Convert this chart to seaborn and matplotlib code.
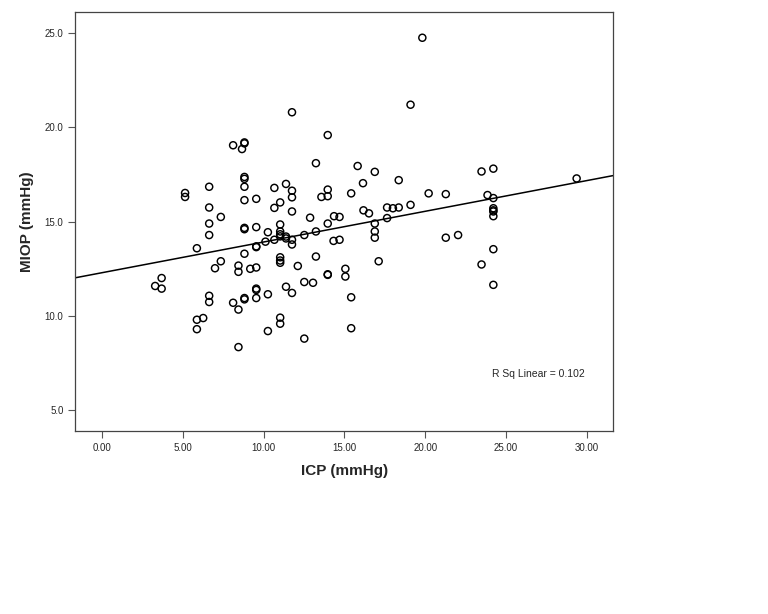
import numpy as np
import pandas as pd
import seaborn as sns
from matplotlib import pyplot as plt

# values (ICP vs MIOP)
icp = [19.82, 19.09, 11.76, 13.97, 8.12, 8.82, 8.82, 8.67, 13.24, 15.82,
       16.88, 23.48, 24.21, 29.36, 18.36, 8.82, 8.82, 11.39, 16.15, 6.64,
       8.82, 10.67, 11.76, 13.97, 5.15, 5.15, 13.58, 13.97, 11.76, 15.42,
       20.21, 21.27, 23.85, 24.21, 8.82, 9.55, 11.03, 19.09, 17.64, 18.00,
       18.36, 6.64, 10.67, 11.76, 16.18, 16.52, 24.21, 24.21, 24.21, 24.21,
       7.36, 14.36, 14.70, 17.64, 12.88, 6.64, 11.03, 13.97, 16.88, 8.82,
       8.82, 9.55, 10.27, 11.03, 11.03, 13.24, 16.88, 6.64, 12.52, 22.03,
       21.27, 16.88, 11.03, 11.39, 11.39, 10.67, 10.12, 11.76, 11.76, 14.33,
       14.70, 9.55, 9.55, 5.88, 24.21, 8.82, 13.24, 11.03, 11.03, 11.03,
       7.36, 17.12, 23.48, 8.45, 12.12, 7.00, 9.55, 9.18, 15.06, 8.45,
       3.70, 13.97, 13.97, 15.06, 3.30, 3.70, 24.21, 12.52, 13.06, 11.39,
       9.55, 9.55, 11.76, 10.27, 6.64, 6.64, 15.42, 9.55, 8.82, 8.82,
       8.12, 8.45, 5.88, 6.27, 5.88, 11.03, 11.03, 10.27, 15.42, 12.52,
       8.45]
miop = [24.75, 21.20, 20.80, 19.59, 19.05, 19.20, 19.15, 18.85, 18.10, 17.95,
        17.64, 17.66, 17.81, 17.29, 17.20, 17.37, 17.27, 17.00, 17.04, 16.85,
        16.85, 16.79, 16.64, 16.70, 16.52, 16.31, 16.31, 16.35, 16.29, 16.50,
        16.50, 16.46, 16.41, 16.25, 16.14, 16.21, 16.02, 15.89, 15.75, 15.71,
        15.75, 15.75, 15.73, 15.54, 15.60, 15.44, 15.71, 15.60, 15.54, 15.29,
        15.25, 15.29, 15.25, 15.19, 15.21, 14.90, 14.85, 14.90, 14.90, 14.67,
        14.60, 14.71, 14.44, 14.48, 14.33, 14.48, 14.48, 14.29, 14.29, 14.29,
        14.15, 14.15, 14.22, 14.21, 14.11, 14.04, 13.94, 14.04, 13.79, 13.98,
        14.04, 13.69, 13.65, 13.59, 13.54, 13.30, 13.15, 13.11, 12.94, 12.82,
        12.90, 12.90, 12.73, 12.67, 12.65, 12.53, 12.57, 12.50, 12.50, 12.34,
        12.01, 12.21, 12.18, 12.09, 11.59, 11.45, 11.65, 11.80, 11.76, 11.55,
        11.45, 11.38, 11.22, 11.15, 11.07, 10.74, 10.99, 10.95, 10.95, 10.88,
        10.70, 10.34, 9.80, 9.89, 9.30, 9.91, 9.59, 9.20, 9.35, 8.80,
        8.35]
r_sq_label = "R Sq Linear = 0.102"
x_ticks = [0, 5, 10, 15, 20, 25, 30]
y_ticks = [5, 10, 15, 20, 25]

df = pd.DataFrame({"ICP (mmHg)": icp, "MIOP (mmHg)": miop})

sns.set_style("ticks")
plt.rcParams['font.family'] = ['Liberation Sans', 'DejaVu Sans']

fig = plt.figure(figsize=(7.68, 6.14), dpi=100)
ax = fig.add_axes([0.098, 0.298, 0.70, 0.682])
xlim = (-1.64, 31.6)
ylim = (3.9, 26.1)
ax.set_xlim(xlim)
ax.set_ylim(ylim)

sns.scatterplot(data=df, x="ICP (mmHg)", y="MIOP (mmHg)", ax=ax,
                marker="o", s=26, facecolor="none", edgecolor="black",
                linewidth=1.05)
# fit line across the whole frame, like SPSS "fit line at total"
sns.regplot(data=df, x="ICP (mmHg)", y="MIOP (mmHg)", ax=ax, scatter=False,
            ci=None, truncate=False, line_kws={"color": "black", "lw": 1.1})
ax.set_xlim(xlim)
ax.set_ylim(ylim)

ax.set_xticks(x_ticks)
ax.set_xticklabels([f"{v:.2f}" for v in x_ticks])
ax.set_yticks(y_ticks)
ax.set_yticklabels([f"{v:.1f}" for v in y_ticks])
ax.tick_params(axis="both", labelsize=7, length=5, width=0.8, color="#555555")
ax.set_xlabel("ICP (mmHg)", fontsize=11, fontweight="bold", labelpad=8)
ax.set_ylabel("MIOP (mmHg)", fontsize=11, fontweight="bold", labelpad=8)
for side in ax.spines.values():
    side.set_visible(True)
    side.set_color("#444444")
    side.set_linewidth(0.9)

ax.text(0.775, 0.135, r_sq_label, transform=ax.transAxes,
        fontsize=7.5, ha="left", va="center")

fig.savefig("out.png", dpi=100)
